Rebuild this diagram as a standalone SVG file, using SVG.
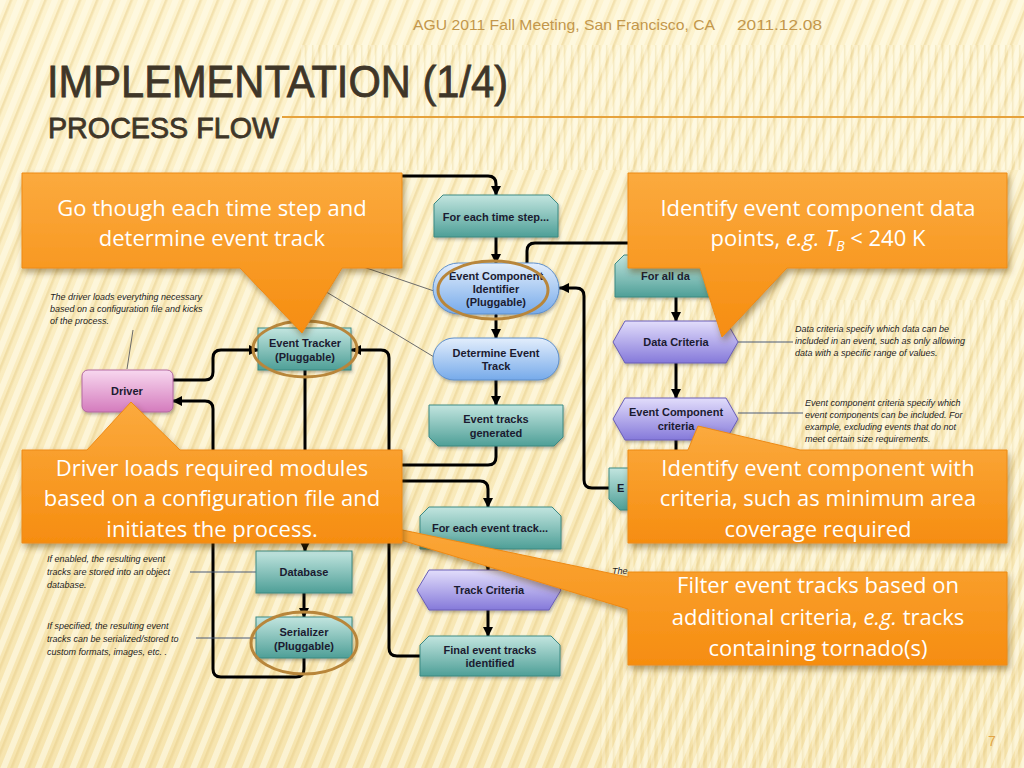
<svg xmlns="http://www.w3.org/2000/svg" width="1024" height="768" viewBox="0 0 1024 768">
<defs>
<linearGradient id="bg" x1="0" y1="0" x2="0" y2="1"><stop offset="0" stop-color="#FDF3CF"/><stop offset="1" stop-color="#F6E4AE"/></linearGradient>
<pattern id="diag" width="16" height="16" patternUnits="userSpaceOnUse" patternTransform="rotate(22)"><rect width="16" height="16" fill="none"/><rect width="6" height="16" fill="#FFFBEA" opacity="0.6"/><rect x="9" width="2.5" height="16" fill="#E6CC88" opacity="0.45"/></pattern>
<pattern id="vert" width="7" height="10" patternUnits="userSpaceOnUse"><rect width="3" height="10" fill="#FFFBEA" opacity="0.5"/><rect x="4" width="1.5" height="10" fill="#E3CB8A" opacity="0.35"/></pattern>
<linearGradient id="og" x1="0" y1="0" x2="0" y2="1"><stop offset="0" stop-color="#FBAA3E"/><stop offset="1" stop-color="#F68D10"/></linearGradient>
<linearGradient id="teal" x1="0" y1="0" x2="0" y2="1"><stop offset="0" stop-color="#C2E5DF"/><stop offset="1" stop-color="#4E9F97"/></linearGradient>
<linearGradient id="blue" x1="0" y1="0" x2="0" y2="1"><stop offset="0" stop-color="#E3EEFC"/><stop offset="1" stop-color="#76AAEA"/></linearGradient>
<linearGradient id="purp" x1="0" y1="0" x2="0" y2="1"><stop offset="0" stop-color="#E2DDFB"/><stop offset="1" stop-color="#8579DA"/></linearGradient>
<linearGradient id="pink" x1="0" y1="0" x2="0" y2="1"><stop offset="0" stop-color="#F8D8EF"/><stop offset="1" stop-color="#D47BBD"/></linearGradient>
<filter id="sh" x="-10%" y="-10%" width="125%" height="130%"><feDropShadow dx="2" dy="4" stdDeviation="3" flood-color="#5a3a00" flood-opacity="0.45"/></filter>
<filter id="nsh" x="-10%" y="-10%" width="125%" height="130%"><feDropShadow dx="1" dy="2" stdDeviation="1.5" flood-color="#333" flood-opacity="0.35"/></filter>
<marker id="ah" viewBox="0 0 10 10" refX="9" refY="5" markerWidth="3.4" markerHeight="3.4" orient="auto" markerUnits="strokeWidth"><path d="M0,0 L10,5 L0,10 Z" fill="#000"/></marker>
<style>
.conn{fill:none;stroke:#000;stroke-width:3;stroke-linejoin:round;stroke-linecap:round}
.arr{marker-end:url(#ah)}
.ann{fill:none;stroke:#4A5A78;stroke-width:1}
.gray{fill:none;stroke:#6B6B6B;stroke-width:1}
.teal{fill:url(#teal);stroke:#3C8A83;stroke-width:1;filter:url(#nsh)}
.blue{fill:url(#blue);stroke:#5E8FCB;stroke-width:1;filter:url(#nsh)}
.purp{fill:url(#purp);stroke:#6A5FB8;stroke-width:1;filter:url(#nsh)}
.pink{fill:url(#pink);stroke:#B36AA1;stroke-width:1;filter:url(#nsh)}
.ring{fill:none;stroke:#B8863B;stroke-width:3}
.lbl{font-family:"Liberation Sans",Arial,sans-serif;font-weight:bold;font-size:11px;fill:#1B1B30;text-anchor:middle}
.note{font-family:"Liberation Sans",Arial,sans-serif;font-style:italic;font-size:9px;fill:#1E1E1E}
.co{fill:url(#og);stroke:#EE8A14;stroke-width:1;filter:url(#sh)}
.ct{font-family:"Open Sans","Liberation Sans",sans-serif;font-size:22px;fill:#FFFFFF;text-anchor:middle}
.ttl{font-family:"Liberation Sans",sans-serif;fill:#3F3628;stroke:#3F3628;stroke-width:0.8}
</style>
</defs>
<rect width="1024" height="768" fill="url(#bg)"/>
<rect width="1024" height="768" fill="url(#diag)"/>
<rect x="300" y="45" width="724" height="125" fill="url(#vert)" opacity="0.8"/>
<rect x="600" y="300" width="424" height="468" fill="url(#vert)" opacity="0.6"/>

<g id="header">
<text x="413" y="30" font-family="Liberation Sans,sans-serif" font-size="15" fill="#C3974B" textLength="302" lengthAdjust="spacingAndGlyphs">AGU 2011 Fall Meeting, San Francisco, CA</text>
<text x="737" y="30" font-family="Liberation Sans,sans-serif" font-size="15" fill="#C3974B" textLength="85" lengthAdjust="spacingAndGlyphs">2011.12.08</text>
<text class="ttl" x="47" y="97" font-size="45" textLength="461" lengthAdjust="spacingAndGlyphs">IMPLEMENTATION (1/4)</text>
<text class="ttl" x="48" y="138" font-size="29" textLength="231" lengthAdjust="spacingAndGlyphs">PROCESS FLOW</text>
<line x1="282" y1="117" x2="1024" y2="117" stroke="#E6A23C" stroke-width="2"/>
<text x="988" y="746" font-family="Liberation Sans,sans-serif" font-size="14" fill="#E1A445">7</text>
</g>

<g id="connectors">
<path class="conn arr" d="M380,176 H488 Q496,176 496,184 V195"/>
<path class="conn arr" d="M496,237 V263"/>
<path class="conn arr" d="M496,315 V338"/>
<path class="conn arr" d="M496,380 V405"/>
<path class="conn" d="M496,446 V457 Q496,465 488,465 H380"/>
<path class="conn arr" d="M380,481 H480 Q488,481 488,489 V507"/>
<path class="conn arr" d="M488,549 V570"/>
<path class="conn arr" d="M488,610 V636"/>
<path class="conn arr" d="M420,656 H397 Q389,656 389,648 V358 Q389,350 381,350 H352"/>
<path class="conn arr" d="M173,380 H205 Q213,380 213,372 V358 Q213,350 221,350 H258"/>
<path class="conn arr" d="M304,658 V669 Q304,677 296,677 H221 Q213,677 213,669 V409 Q213,401 205,401 H173"/>
<path class="conn arr" d="M305,370 V551"/>
<path class="conn arr" d="M304,593 V617"/>
<path class="conn" d="M527,263 V251 Q527,243 535,243 H668 Q676,243 676,251 V255"/>
<path class="conn arr" d="M676,297 V321"/>
<path class="conn arr" d="M676,363 V398"/>
<path class="conn" d="M676,440 V462"/>
<path class="conn arr" d="M609,488 H592 Q584,488 584,480 V296 Q584,288 576,288 H560"/>
<line class="gray" x1="340" y1="259" x2="434" y2="291"/>
<line class="gray" x1="290" y1="270" x2="434" y2="357"/>
<line class="gray" x1="133" y1="330" x2="127" y2="369"/>
<line class="ann" x1="738" y1="342" x2="793" y2="342"/>
<line class="ann" x1="738" y1="413" x2="803" y2="413"/>
<line class="ann" x1="190" y1="572" x2="256" y2="572"/>
<line class="ann" x1="196" y1="638" x2="256" y2="638"/>
</g>

<g id="node-for-each-time-step"><path class="teal" d="M443,195 H549 L558,204 V237 H434 V204 Z"/><text class="lbl" x="496" y="221">For each time step...</text></g>
<g id="node-event-component-identifier"><rect class="blue" x="433" y="263" width="126" height="51" rx="25.5"/><text class="lbl" x="496" y="280">Event Component</text><text class="lbl" x="496" y="293">Identifier</text><text class="lbl" x="496" y="306">(Pluggable)</text><ellipse class="ring" cx="493" cy="290" rx="55" ry="29"/></g>
<g id="node-determine-event-track"><rect class="blue" x="433" y="338" width="126" height="42" rx="21"/><text class="lbl" x="496" y="357">Determine Event</text><text class="lbl" x="496" y="370">Track</text></g>
<g id="node-event-tracks-generated"><path class="teal" d="M429,405 H563 V437 L554,446 H438 L429,437 Z"/><text class="lbl" x="496" y="423">Event tracks</text><text class="lbl" x="496" y="437">generated</text></g>
<g id="node-for-each-event-track"><path class="teal" d="M429,507 H552 L561,516 V549 H420 V516 Z"/><text class="lbl" x="490" y="532">For each event track...</text></g>
<g id="node-track-criteria"><path class="purp" d="M429,570 H549 L561,590 L549,610 H429 L417,590 Z"/><text class="lbl" x="489" y="594">Track Criteria</text></g>
<g id="node-final-event-tracks"><path class="teal" d="M429,636 H551 L560,645 V676 H420 V645 Z"/><text class="lbl" x="490" y="654">Final event tracks</text><text class="lbl" x="490" y="667">identified</text></g>
<g id="node-event-tracker"><rect class="teal" x="258" y="328" width="93" height="42"/><text class="lbl" x="305" y="347">Event Tracker</text><text class="lbl" x="305" y="361">(Pluggable)</text><ellipse class="ring" cx="305" cy="349" rx="52" ry="28"/></g>
<g id="node-driver"><rect class="pink" x="82" y="370" width="91" height="42" rx="6"/><text class="lbl" x="127" y="395">Driver</text></g>
<g id="node-database"><rect class="teal" x="256" y="551" width="96" height="42"/><text class="lbl" x="304" y="576">Database</text></g>
<g id="node-serializer"><rect class="teal" x="256" y="617" width="96" height="41"/><text class="lbl" x="304" y="636">Serializer</text><text class="lbl" x="304" y="650">(Pluggable)</text><ellipse class="ring" cx="304" cy="643" rx="53" ry="31"/></g>
<g id="node-for-all-data"><path class="teal" d="M624,255 H740 L749,264 V297 H615 V264 Z"/><text class="lbl" x="641" y="280" style="text-anchor:start">For all da</text></g>
<g id="node-data-criteria"><path class="purp" d="M625,321 H726 L738,342 L726,363 H625 L613,342 Z"/><text class="lbl" x="676" y="346">Data Criteria</text></g>
<g id="node-event-component-criteria"><path class="purp" d="M625,398 H726 L738,419 L726,440 H625 L613,419 Z"/><text class="lbl" x="676" y="416">Event Component</text><text class="lbl" x="676" y="430">criteria</text></g>
<g id="node-e"><path class="teal" d="M609,468 H700 V510 H620 L609,499 Z"/><text class="lbl" x="617" y="492" style="text-anchor:start">E</text></g>

<g id="annotations">
<text class="note" x="50" y="300">The driver loads everything necessary</text>
<text class="note" x="50" y="312">based on a configuration file and kicks</text>
<text class="note" x="50" y="324">of the process.</text>
<text class="note" x="795" y="332">Data criteria specify which data can be</text>
<text class="note" x="795" y="344">included in an event, such as only allowing</text>
<text class="note" x="795" y="356">data with a specific range of values.</text>
<text class="note" x="805" y="406">Event component criteria specify which</text>
<text class="note" x="805" y="418">event components can be included. For</text>
<text class="note" x="805" y="430">example, excluding events that do not</text>
<text class="note" x="805" y="442">meet certain size requirements.</text>
<text class="note" x="47" y="562">If enabled, the resulting event</text>
<text class="note" x="47" y="575">tracks are stored into an object</text>
<text class="note" x="47" y="588">database.</text>
<text class="note" x="47" y="629">If specified, the resulting event</text>
<text class="note" x="47" y="642">tracks can be serialized/stored to</text>
<text class="note" x="47" y="655">custom formats, images, etc. .</text>
<text class="note" x="612" y="574">The</text>
</g>

<g id="callout-filter"><path class="co" d="M628,572 H1007 V665 H628 V609 L292,507 L628,577 Z"/><text class="ct" x="818" y="593">Filter event tracks based on</text><text class="ct" x="818" y="625">additional criteria, <tspan font-style="italic">e.g.</tspan> tracks</text><text class="ct" x="818" y="656">containing tornado(s)</text></g>
<g id="callout-time-step"><path class="co" d="M22,173 H402 V268 H342 L302,333 L240,268 H22 Z"/><text class="ct" x="212" y="216">Go though each time step and</text><text class="ct" x="212" y="246">determine event track</text></g>
<g id="callout-driver"><path class="co" d="M22,450 H87 L131,402 L180,450 H402 V543 H22 Z"/><text class="ct" x="212" y="476">Driver loads required modules</text><text class="ct" x="212" y="506">based on a configuration file and</text><text class="ct" x="212" y="537">initiates the process.</text></g>
<g id="callout-data-points"><path class="co" d="M628,173 H1007 V268 H787 L722,337 L700,268 H628 Z"/><text class="ct" x="818" y="216">Identify event component data</text><text class="ct" x="818" y="246">points, <tspan font-style="italic">e.g.</tspan> <tspan font-style="italic">T</tspan><tspan font-style="italic" font-size="14" dy="5">B</tspan><tspan dy="-5"> &lt; 240 K</tspan></text></g>
<g id="callout-criteria"><path class="co" d="M628,450 H688 L698,426 L800,450 H1007 V543 H628 Z"/><text class="ct" x="818" y="476">Identify event component with</text><text class="ct" x="818" y="506">criteria, such as minimum area</text><text class="ct" x="818" y="537">coverage required</text></g>
</svg>
